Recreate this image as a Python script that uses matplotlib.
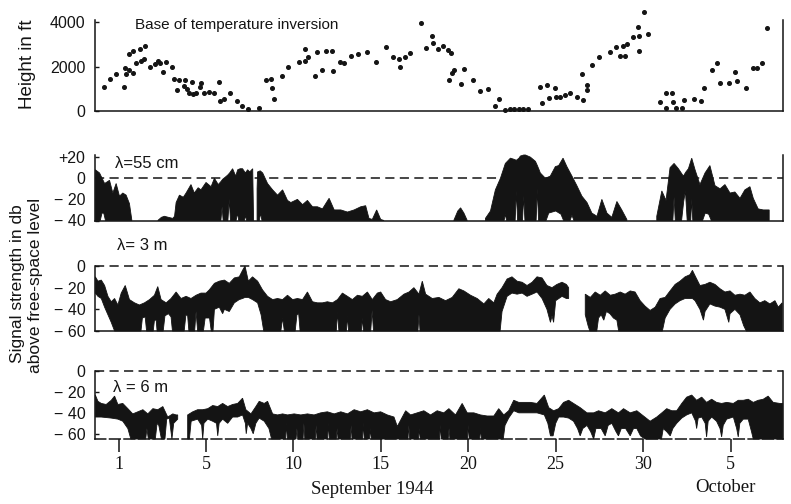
import numpy as np
import matplotlib
matplotlib.use("Agg")
import matplotlib.pyplot as plt

nan = np.nan

SANS = ["Liberation Sans", "DejaVu Sans"]
SERIF = ["Liberation Serif", "DejaVu Serif"]
INK = "#141414"

# ---------------------------------------------------------------------------
# Base of the temperature inversion (days counted on the September axis)
inv_day = [-0.81, -0.52, -0.14, 0.30, 0.38, 0.40, 0.57, 0.60, 0.82, 0.83, 1.00,
           1.25, 1.26, 1.52, 1.44, 1.80, 2.09, 2.24, 2.39, 2.56, 2.72, 3.04, 3.19,
           3.34, 3.46, 3.73, 3.80, 3.92, 4.05, 4.17, 4.28, 4.45, 4.63, 4.70, 4.87,
           5.19, 5.43, 5.76, 5.82, 6.00, 6.39, 6.77, 7.04, 7.41, 8.04, 8.42, 8.74,
           8.76, 8.86, 9.37, 9.70, 10.32, 10.65, 10.67, 10.84, 11.22, 11.33, 11.66,
           11.86, 12.23, 12.25, 12.67, 12.90, 13.28, 13.70, 14.23, 14.70, 15.27,
           15.71, 16.04, 16.12, 16.36, 16.66, 17.27, 17.56, 17.94, 17.99, 18.26,
           18.57, 18.83, 19.02, 18.89, 19.07, 19.20, 19.78, 19.60, 20.28, 20.66,
           21.11, 21.74, 21.50, 22.09, 22.37, 22.60, 22.90, 23.13, 23.40, 24.08,
           24.21, 24.49, 24.98, 24.64, 25.00, 25.27, 25.56, 25.84, 26.22, 26.57,
           26.51, 26.78, 26.80, 27.07, 27.45, 28.08, 28.46, 28.69, 28.98, 28.84,
           29.10, 29.41, 29.73, 29.79, 29.75, 30.06, 30.30, 30.97, 31.31, 31.64,
           31.33, 31.68, 31.87, 32.25, 32.33, 32.91, 33.29, 33.48, 33.92, 34.24,
           34.39, 34.92, 35.25, 35.38, 35.88, 36.26, 36.49, 36.78, 37.10]
inv_height = [1072, 1435, 1676, 1072, 1933, 1676, 2582, 1857, 2688, 1706, 2160,
              2794, 2280, 2914, 2340, 2008, 2129, 2265, 2190, 1782, 2235, 2008, 1435,
              951, 1404, 1132, 1404, 981, 800, 1329, 770, 800, 1072, 1283, 800,
              876, 830, 1329, 468, 528, 830, 468, 226, 75, 120, 1404, 1435,
              1027, 528, 1585, 2008, 2235, 2794, 2280, 2461, 1585, 2643, 1857,
              2688, 2688, 1827, 2235, 2190, 2491, 2582, 2643, 2235, 2884,
              2461, 2340, 2008, 2461, 2612, 3971, 2824, 3367, 3065, 2794,
              2914, 2763, 2612, 1404, 1706, 1857, 1888, 1208, 1404, 906,
              981, 528, 226, 45, 75, 75, 106, 106, 75, 1102,
              347, 1163, 1057, 604, 634, 649, 710, 800, 649, 498,
              1661, 1163, 951, 2069, 2461, 2673, 2869, 2491, 2491, 2944,
              3020, 3322, 3775, 3397, 2718, 4455, 3473, 408, 830, 800,
              151, 408, 151, 151, 498, 559, 453, 1057, 1857, 2159,
              1284, 1284, 1767, 1359, 1057, 1963, 1948, 2159, 3730]

# ---------------------------------------------------------------------------
# lambda = 55 cm : upper edge of the recorded band (db); nan separates traces
cm55_day = [-1.33, -1.09, -0.80, -0.52, -0.33, -0.14, 0.05, 0.24, 0.43, 0.62, 0.76, nan,
            2.24, 2.45, 2.62, 2.85, 3.10, 3.20, 3.29, 3.48, 3.70, 3.86, 4.14, 4.33,
            4.55, 4.71, 5.00, 5.29, 5.48, 5.70, 5.86, 5.95, 6.10, 6.24, 6.35, 6.52,
            6.70, 6.81, 6.95, 7.09, 7.25, 7.38, 7.50, 7.67, 7.72, nan,
            7.92, 7.95, 8.10, 8.24, 8.52, 8.81, 9.09, 9.38, 9.66, 9.85, 10.23, 10.52,
            10.80, 11.09, 11.37, 11.66, 12.04, 12.33, 12.71, 13.09, 13.47, 13.85,
            14.13, 14.32, 14.51, 14.76, 14.99, 15.18, nan,
            19.17, 19.40, 19.56, 19.75, 19.94, nan,
            20.98, 21.27, 21.55, 21.84, 22.12, 22.41, 22.60, 22.75, 22.90, 22.98,
            23.17, 23.27, 23.55, 23.84, 23.95, 24.05, 24.12, 24.41, 24.69, 24.98,
            25.17, 25.42, 25.64, 25.93, 26.21, 26.50, 26.79, 27.07, 27.36, 27.64,
            27.93, 28.21, 28.50, 28.78, 29.07, nan,
            30.78, 31.07, 31.31, 31.54, 31.77, 32.02, 32.30, 32.45, 32.59, 32.78,
            32.97, 33.25, 33.54, 33.82, 34.11, 34.40, 34.68, 34.97, 35.25, 35.54,
            35.82, 36.11, 36.30, 36.58, 36.87, 37.21]
cm55_top = [8, 5, -5, -2, -14, -5, -17, -14, -16, -24, -40, nan,
            -40, -37, -36, -37, -38, -36, -23, -16, -18, -14, -6, -14,
            -9, -11, -4, -8, 0, -6, -3, -1, 1, 3, 5, 9,
            2, 8, 9, 9, 5, 8, 6, 9, -40, nan,
            -10, 6, 7, 5, -5, -11, -16, -11, -21, -23, -20, -25,
            -21, -27, -27, -29, -19, -30, -30, -32, -30, -27,
            -26, -38, -39, -30, -39, -40, nan,
            -40, -31, -28, -33, -40, nan,
            -38, -31, -11, 0, 14, 19, 18, 17, 19, 21,
            22, 22, 20, 16, 12, 8, 5, 0, 2, 11,
            12, 19, 11, 2, -7, -17, -23, -33, -36, -20,
            -33, -37, -22, -30, -39, nan,
            -36, -12, -21, 10, 14, 9, 2, 6, 9, 19,
            8, -6, 5, 12, -7, -10, -6, -14, -13, -19,
            -11, -8, -19, -29, -30, -30]
# lower edge of the same traces
cm55_low_day = [-1.33, -1.05, -0.95, -0.85, -0.75, 0.76, nan,
                2.24, 5.85, 5.92, 5.98, 6.25, 6.33, 6.40, 6.72, 6.80, 6.87, 7.20, 7.26,
                7.32, 7.72, nan,
                7.92, 8.05, 8.12, 8.20, 15.18, nan,
                19.17, 19.94, nan,
                20.98, 22.05, 22.12, 22.19, 22.68, 22.75, 22.82, 23.10, 23.17, 23.24,
                23.88, 23.95, 24.02, 24.45, 24.60, 25.00, 25.30, 25.45, 25.82, 25.93,
                26.04, 29.07, nan,
                30.78, 31.70, 31.77, 31.84, 32.20, 32.32, 32.42, 32.52, 32.72, 32.78,
                32.84, 33.40, 33.55, 33.75, 33.90, 37.21]
cm55_low = [-40, -40, -33, -33, -40, -40, nan,
            -40, -40, -27, -40, -40, -20, -40, -40, -33, -40, -40, -35,
            -40, -40, nan,
            -40, -40, -33, -40, -40, nan,
            -40, -40, nan,
            -40, -40, -34, -40, -40, -12, -40, -40, -17, -40,
            -40, -10, -40, -40, -33, -31, -34, -40, -40, -35,
            -40, -40, nan,
            -40, -40, -18, -40, -40, -22, -12, -40, -40, -20,
            -40, -40, -33, -34, -40, -40]

# ---------------------------------------------------------------------------
# lambda = 3 m
m3_day = [-1.33, -1.18, -0.99, -0.80, -0.61, -0.42, -0.23, -0.04, 0.15, 0.38, 0.62,
          0.91, 1.19, 1.48, 1.77, 2.05, 2.24, 2.43, 2.72, 3.00, 3.29, 3.57, 3.86,
          4.14, 4.43, 4.71, 5.00, 5.19, 5.48, 5.76, 6.05, 6.33, 6.62, 6.90, 7.09,
          7.23, 7.42, 7.66, 7.95, 8.23, 8.52, 8.81, 9.09, 9.38, 9.66, 9.95, 10.23,
          10.52, 10.80, 11.09, 11.37, 11.66, 11.94, 12.23, 12.52, 12.80, 13.09,
          13.37, 13.66, 13.94, 14.23, 14.51, 14.80, 14.99, 15.27, 15.56, 15.94,
          16.32, 16.61, 16.89, 17.18, 17.37, 17.56, 17.94, 18.32, 18.70, 19.08,
          19.46, 19.75, 20.13, 20.51, 20.89, 21.17, 21.46, 21.65, 21.93, 22.22,
          22.50, 22.79, 23.08, 23.36, 23.65, 23.93, 24.22, 24.50, 24.79, 25.07,
          25.36, 25.61, 25.74, nan,
          26.69, 26.98, 27.26, 27.55, 27.83, 28.12, 28.40, 28.69, 28.97, 29.26,
          29.54, 29.83, 30.11, 30.40, 30.69, 30.97, 31.26, 31.54, 31.83, 32.11,
          32.40, 32.68, 32.82, 32.97, 33.25, 33.54, 33.82, 34.11, 34.40, 34.68,
          34.97, 35.25, 35.54, 35.82, 36.11, 36.39, 36.68, 36.96, 37.25, 37.54,
          37.73, 37.95]
m3_top = [-10, -14, -13, -18, -28, -33, -30, -36, -25, -18, -31,
          -34, -36, -34, -31, -27, -19, -31, -34, -30, -24, -30, -28,
          -30, -27, -25, -25, -22, -16, -14, -13, -16, -11, -10, -4,
          0, -14, -10, -14, -22, -28, -31, -30, -31, -27, -31, -30,
          -31, -24, -33, -34, -34, -33, -34, -31, -25, -28,
          -31, -27, -28, -24, -31, -25, -24, -31, -33, -31,
          -26, -24, -20, -26, -14, -26, -30, -29, -32, -29,
          -21, -23, -27, -30, -35, -30, -34, -26, -20, -12,
          -10, -14, -15, -18, -15, -10, -11, -18, -20, -17,
          -15, -17, -20, nan,
          -26, -29, -24, -27, -23, -27, -26, -24, -26, -23,
          -24, -32, -37, -41, -38, -30, -29, -23, -17, -14,
          -10, -8, -4, -9, -18, -17, -15, -17, -21, -24,
          -23, -27, -26, -27, -24, -30, -34, -32, -35, -32,
          -38, -34]
m3_low_day = [-1.33, -1.18, -0.99, -0.80, -0.61, -0.42, -0.23,
              1.28, 1.36, 1.52, 1.60,
              1.98, 2.05, 2.15, 2.20,
              2.55, 2.65, 2.85, 3.00, 3.08,
              3.75, 3.85, 3.95, 4.02,
              4.35, 4.43, 4.52,
              4.85, 4.95, 5.20, 5.30,
              5.40, 5.48, 5.76, 5.95, 6.05, 6.33, 6.62, 6.90, 7.09, 7.23, 7.42, 7.66,
              7.95, 8.15, 8.30,
              9.28, 9.38, 9.48,
              10.10, 10.20, 10.30, 10.38,
              12.45, 12.52, 12.60,
              13.03, 13.09, 13.15,
              13.88, 13.94, 14.00,
              14.42, 14.50, 14.58,
              17.12, 17.18, 17.24,
              21.82, 21.93, 22.22, 22.50, 22.79, 23.08, 23.36, 23.65, 23.93, 24.22,
              24.50, 24.70, 24.79, 24.88, 25.00, 25.36, 25.61, 25.74, nan,
              26.69, 26.85, 26.95, 27.35, 27.45, 27.60, 27.75, 27.90, 28.10, 28.30,
              28.50, 28.60,
              31.10, 31.26, 31.54, 31.83, 32.11, 32.40, 32.68, 32.82, 32.97, 33.25,
              33.45, 33.54, 33.82, 34.11, 34.40, 34.68, 34.90, 34.97, 35.25, 35.54,
              35.75, 35.90, 37.95]
m3_low = [-25, -28, -30, -38, -45, -52, -60,
          -60, -48, -47, -60,
          -60, -50, -50, -60,
          -60, -46, -44, -47, -60,
          -60, -45, -46, -60,
          -60, -42, -60,
          -60, -48, -48, -60,
          -60, -40, -38, -44, -40, -42, -34, -31, -30, -29, -29, -31,
          -34, -45, -60,
          -60, -48, -60,
          -60, -45, -44, -60,
          -60, -43, -60,
          -60, -46, -60,
          -60, -48, -60,
          -60, -41, -60,
          -60, -45, -60,
          -60, -42, -28, -25, -26, -25, -28, -26, -24, -30,
          -40, -52, -46, -52, -32, -28, -30, -30, nan,
          -45, -55, -60, -60, -48, -45, -50, -42, -44, -48,
          -50, -60,
          -60, -48, -40, -35, -32, -30, -30, -30, -32, -40,
          -50, -42, -35, -37, -38, -40, -52, -44, -40, -45,
          -55, -60, -60]

# ---------------------------------------------------------------------------
# lambda = 6 m
m6_day = [-1.33, -1.18, -0.99, -0.71, -0.42, -0.23, -0.04, 0.24, 0.53, 0.81, 1.10,
          1.39, 1.67, 1.96, 2.24, 2.53, 2.81, 3.10, 3.29, 3.38, nan,
          3.95, 4.24, 4.52, 4.81, 5.10, 5.38, 5.67, 5.95, 6.24, 6.52, 6.81, 7.09,
          7.28, 7.57, 7.85, 8.04, 8.33, 8.52, 8.81, 9.09, 9.38, 9.66, 10.04, 10.42,
          10.80, 11.18, 11.56, 11.94, 12.33, 12.71, 13.09, 13.47, 13.85, 14.23,
          14.61, 14.99, 15.37, 15.75, 15.94, 16.42, 16.70, 17.08, 17.46, 17.84,
          18.22, 18.60, 18.89, 19.27, 19.65, 19.94, 20.32, 20.70, 21.08, 21.46,
          21.74, 22.03, 22.31, 22.60, 22.89, 23.17, 23.55, 23.93, 24.35, 24.60,
          24.88, 25.17, 25.45, 25.74, 26.02, 26.40, 26.79, 27.17, 27.45, 27.83,
          28.21, 28.59, 28.88, 29.26, 29.64, 30.02, 30.40, 30.78, 31.07, 31.35,
          31.64, 31.92, 32.21, 32.49, 32.78, 33.06, 33.35, 33.63, 33.92, 34.20,
          34.49, 34.78, 35.16, 35.44, 35.73, 36.01, 36.30, 36.58, 36.87, 37.15,
          37.44, 37.82, 37.98]
m6_top = [-23, -29, -31, -32, -28, -24, -32, -31, -36, -41, -39,
          -37, -41, -36, -37, -34, -44, -41, -42, -42, nan,
          -42, -39, -37, -37, -36, -33, -34, -31, -34, -32, -31, -26,
          -37, -41, -34, -29, -31, -29, -41, -42, -41, -42, -41, -42,
          -41, -42, -40, -39, -41, -39, -41, -37, -39, -37,
          -40, -39, -42, -44, -53, -38, -42, -40, -38, -42,
          -38, -40, -36, -42, -31, -40, -40, -42, -43, -43,
          -36, -42, -38, -28, -30, -30, -30, -31, -23, -35,
          -38, -36, -30, -28, -31, -35, -40, -40, -38, -40,
          -36, -40, -36, -40, -38, -43, -48, -44, -40, -36,
          -38, -38, -31, -25, -23, -28, -25, -30, -27, -30,
          -31, -30, -31, -28, -28, -27, -30, -28, -27, -24,
          -30, -31, -31]
m6_low_day = [-1.33, -0.99, -0.42, -0.04, 0.24, 0.53, 0.70, 1.55, 1.62, 1.70, 2.10,
              2.20, 2.30, 2.45, 2.65, 2.75, 2.90, 3.05, 3.15, 3.38, nan,
              3.95, 4.05, 4.15, 4.52, 4.75, 4.81, 4.88, 5.10, 5.38, 5.60, 5.67, 5.75,
              5.95, 6.24, 6.52, 6.81, 7.09, 7.25, 7.30, 7.38, 7.57, 7.70, 7.85, 8.04,
              8.33, 8.60, 8.75,
              9.55, 9.60, 9.65,
              10.15, 10.20, 10.25,
              10.55, 10.60, 10.65,
              11.25, 11.30, 11.35,
              11.95, 12.00, 12.05,
              12.45, 12.50, 12.55,
              13.25, 13.30, 13.35,
              13.95, 14.00, 14.05,
              14.35, 14.40, 14.45,
              16.55, 16.60, 16.65,
              17.15, 17.20, 17.25,
              18.35, 18.40, 18.45,
              18.85, 18.90, 18.95,
              19.95, 20.00, 20.05,
              20.65, 20.70, 20.75,
              22.00, 22.10, 22.31, 22.60, 22.89, 23.17, 23.55, 23.93, 24.35, 24.55,
              24.70, 24.85, 25.00, 25.17, 25.45, 25.74, 26.02, 26.25, 26.40, 26.55,
              26.79, 27.00, 27.17, 27.30, 27.60, 27.83, 28.00, 28.21, 28.45, 28.59,
              28.75, 29.00, 29.26, 29.45, 29.64, 29.85, 30.10,
              31.05, 31.15, 31.35, 31.55, 31.70, 31.92, 32.21, 32.49, 32.78, 33.00,
              33.06, 33.15, 33.35, 33.55, 33.63, 33.72, 33.92, 34.20, 34.40, 34.49,
              34.58, 34.78, 35.16, 35.35, 35.44, 35.53, 35.73, 36.01, 36.20, 36.30,
              37.98]
m6_low = [-44, -44, -45, -46, -48, -55, -65, -65, -55, -65, -65,
          -50, -52, -65, -65, -46, -45, -65, -50, -46, nan,
          -65, -65, -48, -46, -52, -65, -50, -46, -48, -50, -62, -50,
          -46, -50, -44, -44, -42, -50, -60, -50, -55, -60, -50, -45,
          -48, -55, -65,
          -65, -50, -65,
          -65, -55, -65,
          -65, -50, -65,
          -65, -52, -65,
          -65, -50, -65,
          -65, -55, -65,
          -65, -52, -65,
          -65, -50, -65,
          -65, -55, -65,
          -65, -52, -65,
          -65, -55, -65,
          -65, -52, -65,
          -65, -55, -65,
          -65, -52, -65,
          -65, -55, -65,
          -65, -52, -45, -38, -40, -40, -40, -40, -42, -50,
          -62, -62, -50, -44, -44, -45, -48, -55, -62, -55,
          -52, -58, -65, -55, -55, -62, -52, -50, -58, -62,
          -55, -55, -62, -55, -55, -62, -65,
          -65, -55, -58, -62, -55, -50, -45, -42, -40, -48,
          -55, -45, -44, -50, -63, -48, -44, -48, -55, -63,
          -52, -46, -44, -55, -63, -50, -46, -46, -58, -65,
          -65]

# Date axis
tick_pos = [0, 5, 10, 15, 20, 25, 30, 35]
tick_lbl = ["1", "5", "10", "15", "20", "25", "30", "5"]

# ---------------------------------------------------------------------------
W_PX, H_PX = 791, 504
fig = plt.figure(figsize=(W_PX / 100, H_PX / 100), dpi=100)
XLIM = (-1.35, 38.0)
LEFT_PX, RIGHT_PX = 95, 783


def add_panel(top_px, bottom_px):
    ax = fig.add_axes([LEFT_PX / W_PX, 1 - bottom_px / H_PX,
                       (RIGHT_PX - LEFT_PX) / W_PX, (bottom_px - top_px) / H_PX])
    ax.set_xlim(*XLIM)
    ax.spines["top"].set_visible(False)
    for s in ("left", "right", "bottom"):
        ax.spines[s].set_linewidth(1.1)
        ax.spines[s].set_color(INK)
    ax.set_xticks([])
    ax.tick_params(axis="y", direction="in", length=3, width=1, pad=7,
                   labelsize=11.5, colors=INK)
    ax.patch.set_alpha(0)
    return ax


def set_yticks(ax, vals, labels):
    ax.set_yticks(vals)
    ax.set_yticklabels(labels, fontfamily=SANS)


def split_runs(days, vals):
    runs, cur = [], []
    for d, v in zip(days, vals):
        if np.isnan(d):
            runs.append(cur)
            cur = []
        else:
            cur.append((d, v))
    runs.append(cur)
    return runs


def band(ax, top_day, top, low_day, low):
    """Each trace: upper edge left to right, then lower edge back again."""
    assert len(top_day) == len(top) and len(low_day) == len(low)
    upper_runs = split_runs(top_day, top)
    lower_runs = split_runs(low_day, low)
    assert len(upper_runs) == len(lower_runs)
    for up, lo in zip(upper_runs, lower_runs):
        pts = up + lo[::-1]
        xs, ys = zip(*pts)
        ax.fill(xs, ys, color=INK, linewidth=0.6, edgecolor=INK,
                clip_on=False, zorder=3)


DASH = (0, (6, 3.5))

# Inversion height
ax0 = add_panel(20, 111)
ax0.set_ylim(0, 4110)
ax0.plot(inv_day, inv_height, "o", ms=2.6, color=INK, clip_on=False)
set_yticks(ax0, [0, 2000, 4000], ["0", "2000", "4000"])

# 55 cm
ax1 = add_panel(155, 220.5)
ax1.set_ylim(-40, 22)
ax1.axhline(0, ls=DASH, lw=1.1, color=INK, zorder=1)
band(ax1, cm55_day, cm55_top, cm55_low_day, cm55_low)
set_yticks(ax1, [-40, -20, 0, 20], ["− 40", "− 20", "0", "+20"])

# 3 m
ax2 = add_panel(266, 331)
ax2.set_ylim(-60, 0)
ax2.axhline(0, ls=DASH, lw=1.1, color=INK, clip_on=False, zorder=1)
band(ax2, m3_day, m3_top, m3_low_day, m3_low)
set_yticks(ax2, [-60, -40, -20, 0], ["− 60", "− 40", "− 20", "0"])

# 6 m
ax3 = add_panel(371, 439)
ax3.set_ylim(-65, 0)
ax3.axhline(0, ls=DASH, lw=1.1, color=INK, clip_on=False, zorder=1)
ax3.spines["bottom"].set_linestyle((0, (7, 2.5)))
band(ax3, m6_day, m6_top, m6_low_day, m6_low)
set_yticks(ax3, [-60, -40, -20, 0], ["− 60", "− 40", "− 20", "0"])
ax3.set_xticks(tick_pos)
ax3.set_xticklabels(tick_lbl, fontfamily=SERIF, fontsize=13)
ax3.tick_params(axis="x", direction="out", length=9, width=1.1, pad=3, colors=INK)


def ftext(x_px, y_px, s, **kw):
    fig.text(x_px / W_PX, 1 - y_px / H_PX, s, color=INK, **kw)


ftext(135, 25, "Base of temperature inversion", family=SANS, fontsize=11,
      ha="left", va="center")
ftext(115, 164, "λ=55 cm", family=SANS, fontsize=12, ha="left", va="center")
ftext(117, 246, "λ= 3 m", family=SANS, fontsize=12, ha="left", va="center")
ftext(113, 388, "λ = 6 m", family=SANS, fontsize=12, ha="left", va="center")

ftext(27, 64, "Height in ft", family=SANS, fontsize=13.5, rotation=90,
      ha="center", va="center")
ftext(17.5, 284, "Signal strength in db", family=SANS, fontsize=12.5, rotation=90,
      ha="center", va="center")
ftext(36, 285, "above free-space level", family=SANS, fontsize=12.5, rotation=90,
      ha="center", va="center")

ftext(372, 490, "September 1944", family=SERIF, fontsize=13.5, ha="center", va="center")
ftext(725, 487, "October", family=SERIF, fontsize=13.5, ha="center", va="center")

fig.savefig("out.png", dpi=100, facecolor="white")
